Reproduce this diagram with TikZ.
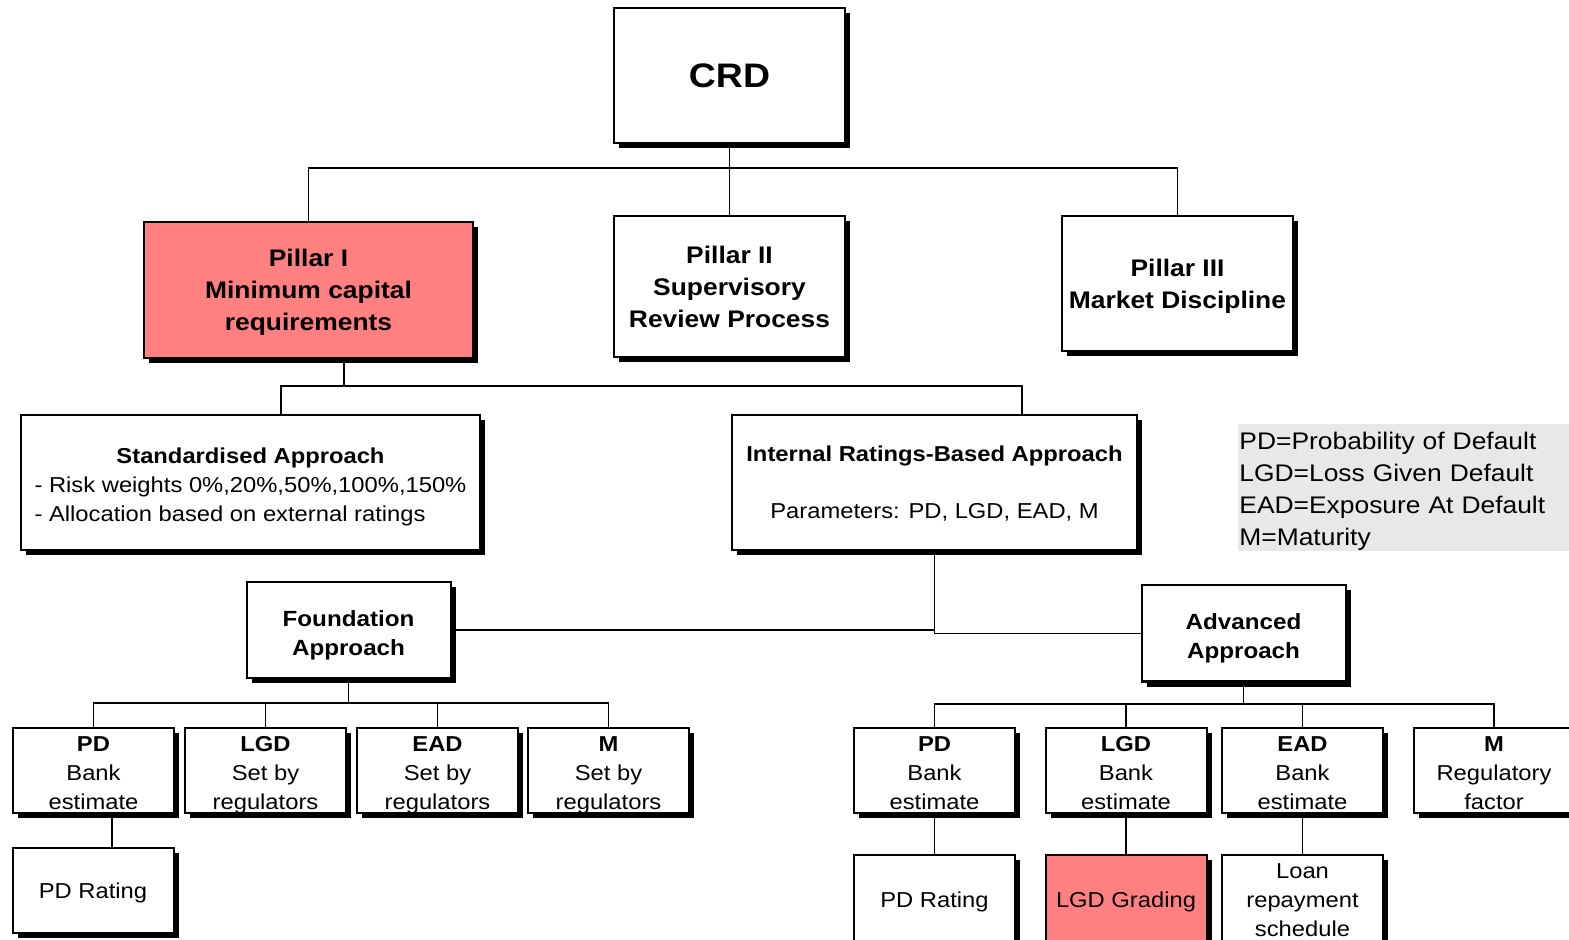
\documentclass[tikz,border=0pt]{standalone}
\usepackage{fontspec}
\setmainfont{Liberation Sans}[FakeStretch=1.1]
\usetikzlibrary{shadows}
\definecolor{pillarred}{RGB}{255,128,128}
\definecolor{legendgray}{RGB}{232,232,232}

\begin{document}
\begin{tikzpicture}[x=0.5pt,y=-0.5pt,
    every node/.style={align=center,inner sep=0pt},
    box/.style={draw,line width=1pt,fill=white,text depth=-1.5pt,
      drop shadow={shadow xshift=2.5pt,shadow yshift=-2.5pt,fill=black,opacity=1}},
    pillar/.style={box,minimum width=115.5pt,minimum height=67.5pt,
      font=\fontsize{12}{16}\selectfont\bfseries},
    approach/.style={box,minimum height=67.5pt,font=\fontsize{10.8}{14.3}\selectfont},
    method/.style={box,minimum width=102pt,minimum height=48pt,
      text height=25pt,text depth=0pt,font=\fontsize{11}{14.5}\selectfont\bfseries},
    cell/.style={box,minimum width=80.5pt,minimum height=45pt,
      font=\fontsize{10.8}{14.5}\selectfont},
    param/.style={cell,minimum height=42.5pt,text height=39.2pt,text depth=0pt},
    link/.style={line width=0.8pt}]

  \useasboundingbox (0,0) rectangle (1569,940);

  % top and pillars
  \node[pillar,font=\fontsize{17}{20}\selectfont\bfseries] (crd) at (729.5,75.5) {CRD};
  \node[pillar,fill=pillarred,minimum width=164.5pt,minimum height=68pt] (p1) at (308.5,290)
    {Pillar I\\Minimum capital\\requirements};
  \node[pillar,minimum height=70.5pt] (p2) at (729.5,286.5)
    {Pillar II\\Supervisory\\Review Process};
  \node[pillar] (p3) at (1177.5,283.5) {Pillar III\\Market Discipline};

  % approaches
  \node[approach,minimum width=229.5pt] (std) at (250.5,482.5)
    {\begin{tabular}[b]{@{}l@{}}
      \multicolumn{1}{@{}c@{}}{\bfseries Standardised Approach}\\
      - Risk weights 0\%,20\%,50\%,100\%,150\%\\
      - Allocation based on external ratings
    \end{tabular}};
  \node[approach,minimum width=202.5pt] (irb) at (934.5,482.5)
    {\textbf{Internal Ratings-Based Approach}\\[14.3pt]
     Parameters: PD, LGD, EAD, M};

  \node[fill=legendgray,minimum width=165.5pt,minimum height=63.5pt,
    text width=164.5pt,inner xsep=0.5pt,align=left,anchor=north west,
    font=\fontsize{12}{16}\selectfont,
    execute at begin node={\rule{0pt}{\dimexpr0.926em+1pt\relax}}] (legend) at (1238,424)
    {PD=Probability of Default\\LGD=Loss Given Default\\
     EAD=Exposure At Default\\M=Maturity};

  \node[method] (found) at (348.5,630) {Foundation\\Approach};
  \node[method] (adv) at (1243.5,633.5) {Advanced\\Approach};

  % foundation parameters
  \node[param] (fpd) at (93.5,770.5) {\textbf{PD}\\Bank\\estimate};
  \node[param] (flgd) at (265.5,770.5) {\textbf{LGD}\\Set by\\regulators};
  \node[param] (fead) at (437.5,770.5) {\textbf{EAD}\\Set by\\regulators};
  \node[param] (fm) at (608.5,770.5) {\textbf{M}\\Set by\\regulators};
  \node[cell,minimum height=42.5pt] (fpdr) at (93,890.5) {PD Rating};

  % advanced parameters
  \node[param] (apd) at (934.5,770.5) {\textbf{PD}\\Bank\\estimate};
  \node[param] (algd) at (1126,770.5) {\textbf{LGD}\\Bank\\estimate};
  \node[param] (aead) at (1302.5,770.5) {\textbf{EAD}\\Bank\\estimate};
  \node[param] (am) at (1494,770.5) {\textbf{M}\\Regulatory\\factor};
  \node[cell] (apdr) at (934.5,900) {PD Rating};
  \node[cell,fill=pillarred] (algdg) at (1126,900) {LGD Grading};
  \node[cell] (loan) at (1302.5,900) {Loan\\repayment\\schedule};

  % connectors
  \coordinate (top) at (729.5,168);
  \draw[link] (crd.south) -- (top);
  \draw[link] (p1.north) |- (top) -| (p3.north);
  \draw[link] (top) -- (p2.north);

  \coordinate (mid) at (344,386);
  \coordinate (left) at (281,386);
  \coordinate (right) at (1022,386);
  \draw[link] (mid |- p1.south) -- (mid);
  \draw[link] (left |- std.north) -- (left) -- (right) -- (right |- irb.north);

  \draw[link] (irb.south) |- (found.east);
  \draw[link] (irb.south) |- (adv.west);

  \coordinate (fbar) at (348.5,703);
  \draw[link] (found.south) -- (fbar);
  \draw[link] (fpd.north) |- (fbar) -| (fm.north);
  \foreach \n in {flgd,fead}
    \draw[link] (\n.north) -- (\n.north |- fbar);
  \coordinate (fdrop) at (112,830);
  \draw[link] (fdrop |- fpd.south) -- (fdrop |- fpdr.north);

  \coordinate (abar) at (1243.5,704);
  \draw[link] (adv.south) -- (abar);
  \draw[link] (apd.north) |- (abar) -| (am.north);
  \foreach \n in {algd,aead}
    \draw[link] (\n.north) -- (\n.north |- abar);
  \draw[link] (apd) -- (apdr);
  \draw[link] (algd) -- (algdg);
  \draw[link] (aead) -- (loan);
\end{tikzpicture}
\end{document}
